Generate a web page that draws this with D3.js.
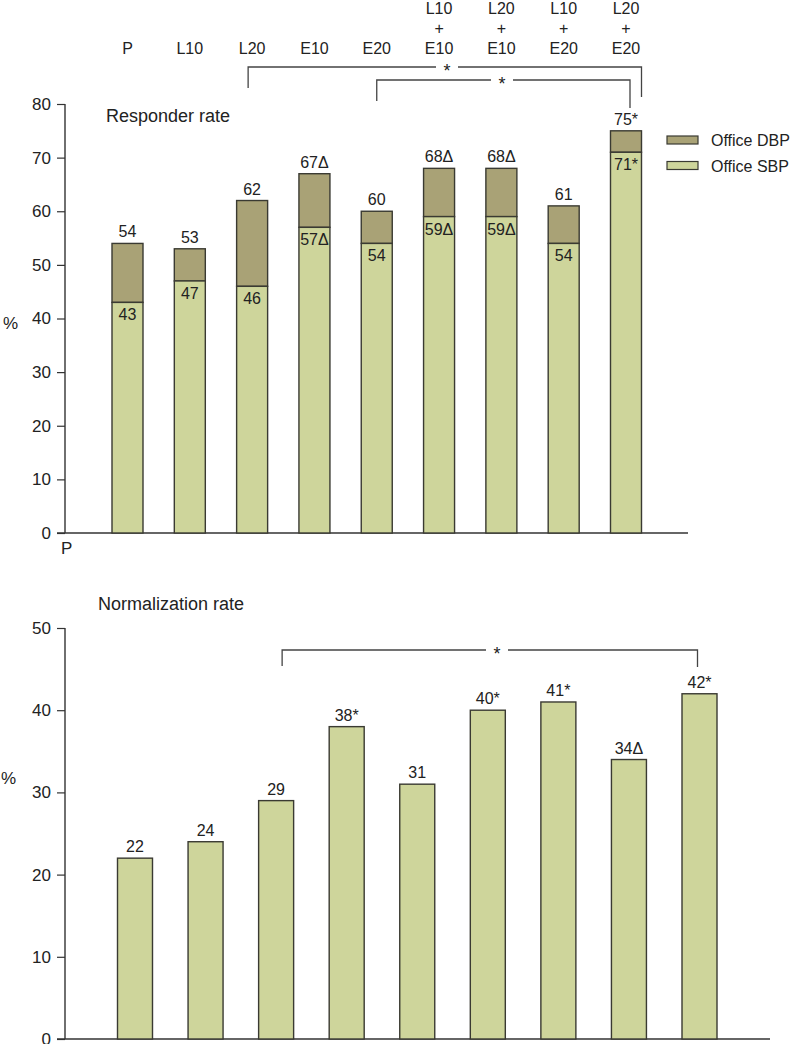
<!DOCTYPE html>
<html>
<head>
<meta charset="utf-8">
<script src="https://cdn.jsdelivr.net/npm/d3@7/dist/d3.min.js"></script>
<style>
  html, body { margin: 0; padding: 0; background: #fff; }
  svg { display: block; font-family: "Liberation Sans", Arial, sans-serif; }
</style>
</head>
<body>
<svg id="chart" width="800" height="1044"></svg>
<script>
// ---- data ----
const categories = ["P", "L10", "L20", "E10", "E20", "L10+E10", "L20+E10", "L10+E20", "L20+E20"];
const headerLines = [["P"], ["L10"], ["L20"], ["E10"], ["E20"],
  ["L10", "+", "E10"], ["L20", "+", "E10"], ["L10", "+", "E20"], ["L20", "+", "E20"]];
const responderTotal = [54, 53, 62, 67, 60, 68, 68, 61, 75];   // SBP + DBP stack top
const responderSBP   = [43, 47, 46, 57, 54, 59, 59, 54, 71];
const responderTotalLabels = ["54", "53", "62", "67\u0394", "60", "68\u0394", "68\u0394", "61", "75*"];
const responderSBPLabels   = ["43", "47", "46", "57\u0394", "54", "59\u0394", "59\u0394", "54", "71*"];
const normalization = [22, 24, 29, 38, 31, 40, 41, 34, 42];
const normalizationLabels = ["22", "24", "29", "38*", "31", "40*", "41*", "34\u0394", "42*"];
const responderTicks = [0, 10, 20, 30, 40, 50, 60, 70, 80];
const normalizationTicks = [0, 10, 20, 30, 40, 50];
const legendItems = ["Office DBP", "Office SBP"];

const colDBP = "#a9a276";
const colSBP = "#ced59b";
const colEdge = "#3a3a32";
const colText = "#222";

const svg = d3.select("#chart");

// ---- top chart ----
const yTop = d3.scaleLinear().domain([0, 80]).range([533, 104]);
const xTop = d3.scalePoint().domain(categories).range([127.5, 626]);
const bwTop = 31;
const axisX = 65;

// header category labels
headerLines.forEach((lines, i) => {
  const n = lines.length;
  lines.forEach((t, j) => {
    svg.append("text")
      .attr("x", xTop(categories[i]))
      .attr("y", 54 - (n - 1 - j) * 20)
      .attr("text-anchor", "middle")
      .attr("font-size", 16)
      .attr("fill", colText)
      .text(t);
  });
});

// y axis (top)
const gTopAxis = svg.append("g").attr("transform", `translate(${axisX},0)`)
  .call(d3.axisLeft(yTop).tickValues(responderTicks).tickSize(8).tickPadding(6).tickFormat(d3.format("d")));
gTopAxis.select(".domain").attr("d", `M0,${yTop(80)}V${yTop(0)}`).attr("stroke", "#333").attr("stroke-width", 1.4);
gTopAxis.selectAll(".tick line").attr("stroke", "#333").attr("stroke-width", 1.2);
gTopAxis.selectAll(".tick text").attr("font-size", 17).attr("fill", colText).attr("font-family", "Liberation Sans, Arial, sans-serif");
// baseline
svg.append("line").attr("x1", axisX - 8).attr("x2", 688).attr("y1", yTop(0)).attr("y2", yTop(0))
  .attr("stroke", "#333").attr("stroke-width", 1.4);

// bars
const topData = categories.map((c, i) => ({ c, total: responderTotal[i], sbp: responderSBP[i],
  tl: responderTotalLabels[i], sl: responderSBPLabels[i] }));
const gTop = svg.append("g");
gTop.selectAll("rect.dbp").data(topData).join("rect").attr("class", "dbp")
  .attr("x", d => xTop(d.c) - bwTop / 2).attr("width", bwTop)
  .attr("y", d => yTop(d.total)).attr("height", d => yTop(d.sbp) - yTop(d.total))
  .attr("fill", colDBP).attr("stroke", colEdge).attr("stroke-width", 1.4);
gTop.selectAll("rect.sbp").data(topData).join("rect").attr("class", "sbp")
  .attr("x", d => xTop(d.c) - bwTop / 2).attr("width", bwTop)
  .attr("y", d => yTop(d.sbp)).attr("height", d => yTop(0) - yTop(d.sbp))
  .attr("fill", colSBP).attr("stroke", colEdge).attr("stroke-width", 1.4);
gTop.selectAll("text.tl").data(topData).join("text").attr("class", "tl")
  .attr("x", d => xTop(d.c)).attr("y", d => yTop(d.total) - 6)
  .attr("text-anchor", "middle").attr("font-size", 16).attr("fill", colText).text(d => d.tl);
gTop.selectAll("text.sl").data(topData).join("text").attr("class", "sl")
  .attr("x", d => xTop(d.c)).attr("y", d => yTop(d.sbp) + 18)
  .attr("text-anchor", "middle").attr("font-size", 16).attr("fill", colText).text(d => d.sl);

// title, % and P
svg.append("text").attr("x", 106).attr("y", 122).attr("font-size", 18).attr("fill", colText).text("Responder rate");
svg.append("text").attr("x", 3).attr("y", 329).attr("font-size", 17).attr("fill", colText).text("%");
svg.append("text").attr("x", 61).attr("y", 554).attr("font-size", 17).attr("fill", colText).text("P");

// legend
legendItems.forEach((t, i) => {
  const y0 = 136 + i * 25.5;
  svg.append("rect").attr("x", 667).attr("y", y0).attr("width", 31).attr("height", 8)
    .attr("fill", i === 0 ? colDBP : colSBP).attr("stroke", colEdge).attr("stroke-width", 1.2);
  svg.append("text").attr("x", 711).attr("y", y0 + 10).attr("font-size", 16).attr("fill", colText).text(t);
});

// significance brackets
function bracket(x1, x2, yh, y1b, y2b, xs) {
  const g = svg.append("g").attr("fill", "none").attr("stroke", "#444").attr("stroke-width", 1.3);
  g.append("path").attr("d", `M${x1},${y1b}V${yh}H${xs - 11}`);
  g.append("path").attr("d", `M${xs + 11},${yh}H${x2}V${y2b}`);
  svg.append("text").attr("x", xs).attr("y", yh + 10).attr("text-anchor", "middle")
    .attr("font-size", 18).attr("fill", colText).text("*");
}
bracket(xTop("L20") - 4, xTop("L20+E20") + bwTop / 2, 67, 88, 97, 447);
bracket(xTop("E20"), xTop("L20+E20") + 4, 80, 101, 108, 502);

// ---- bottom chart ----
const yBot = d3.scaleLinear().domain([0, 50]).range([1039, 628]);
const xBot = d3.scalePoint().domain(categories).range([135, 699.5]);
const bwBot = 35;

const gBotAxis = svg.append("g").attr("transform", `translate(${axisX},0)`)
  .call(d3.axisLeft(yBot).tickValues(normalizationTicks).tickSize(8).tickPadding(6).tickFormat(d3.format("d")));
gBotAxis.select(".domain").attr("d", `M0,${yBot(50)}V${yBot(0)}`).attr("stroke", "#333").attr("stroke-width", 1.4);
gBotAxis.selectAll(".tick line").attr("stroke", "#333").attr("stroke-width", 1.2);
gBotAxis.selectAll(".tick text").attr("font-size", 17).attr("fill", colText).attr("font-family", "Liberation Sans, Arial, sans-serif");
svg.append("line").attr("x1", axisX - 8).attr("x2", 770).attr("y1", yBot(0)).attr("y2", yBot(0))
  .attr("stroke", "#333").attr("stroke-width", 1.4);

const botData = categories.map((c, i) => ({ c, v: normalization[i], l: normalizationLabels[i] }));
svg.append("g").selectAll("rect").data(botData).join("rect")
  .attr("x", d => xBot(d.c) - bwBot / 2).attr("width", bwBot)
  .attr("y", d => yBot(d.v)).attr("height", d => yBot(0) - yBot(d.v))
  .attr("fill", colSBP).attr("stroke", colEdge).attr("stroke-width", 1.4);
svg.append("g").selectAll("text").data(botData).join("text")
  .attr("x", d => xBot(d.c)).attr("y", d => yBot(d.v) - 6)
  .attr("text-anchor", "middle").attr("font-size", 16).attr("fill", colText).text(d => d.l);

svg.append("text").attr("x", 98).attr("y", 610).attr("font-size", 18).attr("fill", colText).text("Normalization rate");
svg.append("text").attr("x", 1).attr("y", 784).attr("font-size", 17).attr("fill", colText).text("%");

bracket(xBot("L20") + 6, xBot("L20+E20") - 2, 650, 666, 667, 497);
</script>
</body>
</html>
